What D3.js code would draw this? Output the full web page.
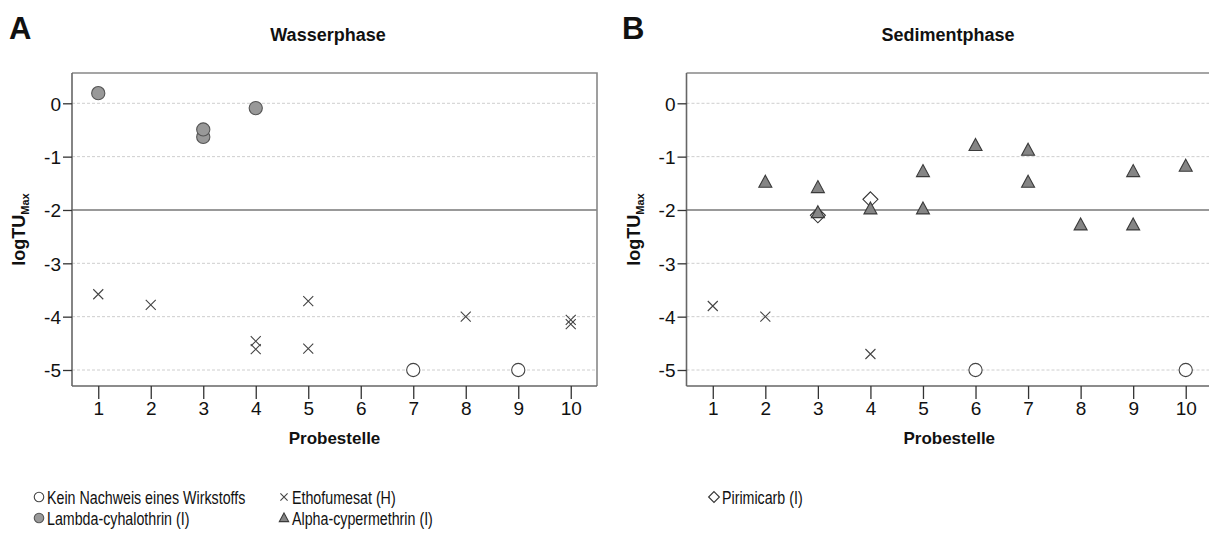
<!DOCTYPE html>
<html>
<head>
<meta charset="utf-8">
<script src="https://cdn.jsdelivr.net/npm/d3@7/dist/d3.min.js"></script>
<style>
  html, body { margin: 0; padding: 0; background: #fff; }
  svg { display: block; font-family: "Liberation Sans", Arial, sans-serif; }
</style>
</head>
<body>
<svg id="chart" width="1209" height="537"></svg>
<script>
// Sampling sites (Probestelle) and y ticks
const sites = [1, 2, 3, 4, 5, 6, 7, 8, 9, 10];
const yTicks = [0, -1, -2, -3, -4, -5];

// Wasserphase (water phase) – [site, logTU_max]
const waterNone = [[7, -5], [9, -5]];
const waterLambda = [[1, 0.19], [3, -0.63], [3, -0.49], [4, -0.09]];
const waterEthofumesat = [[1, -3.58], [2, -3.78], [4, -4.46], [4, -4.61], [5, -3.71], [5, -4.6], [8, -4.0], [10, -4.06], [10, -4.14]];

// Sedimentphase (sediment phase)
const sedNone = [[6, -5], [10, -5]];
const sedAlpha = [[2, -1.48], [3, -1.58], [3, -2.05], [4, -1.98], [5, -1.28], [5, -1.98], [6, -0.79], [7, -0.88], [7, -1.48], [8, -2.28], [9, -1.28], [9, -2.28], [10, -1.18]];
const sedPirimicarb = [[3, -2.1], [4, -1.8]];
const sedEthofumesat = [[1, -3.8], [2, -4.0], [4, -4.7]];

const legendItems = [
  { type: "none", label: "Kein Nachweis eines Wirkstoffs", col: 0, row: 0 },
  { type: "etho", label: "Ethofumesat (H)", col: 1, row: 0 },
  { type: "piri", label: "Pirimicarb (I)", col: 2, row: 0 },
  { type: "lambda", label: "Lambda-cyhalothrin (I)", col: 0, row: 1 },
  { type: "alpha", label: "Alpha-cypermethrin (I)", col: 1, row: 1 }
];

const svg = d3.select("#chart");

// Marker drawing helpers
function drawMarker(g, type, x, y, s) {
  s = s || 1;
  if (type === "none") {
    g.append("circle").attr("cx", x).attr("cy", y).attr("r", 6.6 * s)
      .attr("fill", "#fff").attr("stroke", "#444").attr("stroke-width", 1.1);
  } else if (type === "lambda") {
    g.append("circle").attr("cx", x).attr("cy", y).attr("r", 6.6 * s)
      .attr("fill", "#999").attr("stroke", "#555").attr("stroke-width", 1.1);
  } else if (type === "etho") {
    const h = 5 * s;
    g.append("path")
      .attr("d", `M${x - h},${y - h}L${x + h},${y + h}M${x - h},${y + h}L${x + h},${y - h}`)
      .attr("stroke", "#444").attr("stroke-width", 1.1).attr("fill", "none");
  } else if (type === "piri") {
    const h = 7.5 * s;
    g.append("path")
      .attr("d", `M${x},${y - h}L${x + h},${y}L${x},${y + h}L${x - h},${y}Z`)
      .attr("fill", "#fff").attr("stroke", "#333").attr("stroke-width", 1.1);
  } else if (type === "alpha") {
    const w = 6.5 * s, hUp = 7 * s, hDn = 5 * s;
    g.append("path")
      .attr("d", `M${x},${y - hUp}L${x + w},${y + hDn}L${x - w},${y + hDn}Z`)
      .attr("fill", "#858585").attr("stroke", "#3a3a3a").attr("stroke-width", 1.1);
  }
}

function panel(opts) {
  const x = d3.scaleLinear().domain([0.5, 10.5]).range([opts.left, opts.right]);
  const y = d3.scaleLinear().domain([0, -5]).range([103.3, 370]);
  const top = 73, bottom = 386;
  const g = svg.append("g");

  // Panel letter and title
  g.append("text").attr("x", opts.letterX).attr("y", 39)
    .attr("font-size", 31).attr("font-weight", "bold").attr("fill", "#111").text(opts.letter);
  g.append("text").attr("x", opts.titleX).attr("y", 41).attr("text-anchor", "middle")
    .attr("font-size", 18).attr("font-weight", "bold").attr("fill", "#111").text(opts.title);

  // Gridlines
  g.append("g").selectAll("line").data(yTicks.filter(d => d !== -2)).join("line")
    .attr("x1", opts.left).attr("x2", opts.right)
    .attr("y1", d => y(d)).attr("y2", d => y(d))
    .attr("stroke", "#c8c8c8").attr("stroke-width", 0.9).attr("stroke-dasharray", "3,2");
  // Reference line at -2
  g.append("line").attr("x1", opts.left).attr("x2", opts.right)
    .attr("y1", y(-2)).attr("y2", y(-2))
    .attr("stroke", "#777").attr("stroke-width", 1.3);

  // Frame
  g.append("path")
    .attr("d", `M${opts.left},${top}H${opts.right}V${bottom}`)
    .attr("fill", "none").attr("stroke", "#888").attr("stroke-width", 1.6);

  // Axes
  const fmt = d => String(d);
  const yAxis = d3.axisLeft(y).tickValues(yTicks).tickSize(9).tickPadding(2).tickFormat(fmt);
  const ya = g.append("g").attr("transform", `translate(${opts.left},0)`).call(yAxis);
  ya.select(".domain").attr("d", `M0,${top}V${bottom}`).attr("stroke", "#666").attr("stroke-width", 1.6);
  const xAxis = d3.axisBottom(x).tickValues(sites).tickSize(13).tickPadding(3).tickFormat(fmt);
  const xa = g.append("g").attr("transform", `translate(0,${bottom})`).call(xAxis);
  xa.select(".domain").attr("d", `M${opts.left},0H${opts.right}`).attr("stroke", "#666").attr("stroke-width", 1.6);
  [ya, xa].forEach(a => {
    a.selectAll(".tick line").attr("stroke", "#333").attr("stroke-width", 1.3);
    a.selectAll(".tick text").attr("font-size", 19).attr("fill", "#111")
      .attr("font-family", "'Liberation Sans', Arial, sans-serif");
  });
  ya.selectAll(".tick text").attr("dy", "0.36em");

  // Axis titles
  g.append("text").attr("x", (opts.left + opts.right) / 2).attr("y", 444).attr("text-anchor", "middle")
    .attr("font-size", 17).attr("font-weight", "bold").attr("fill", "#111").text("Probestelle");
  const yl = g.append("text")
    .attr("transform", `translate(${opts.left - 47},${(top + bottom) / 2}) rotate(-90)`)
    .attr("text-anchor", "middle").attr("font-size", 18).attr("font-weight", "bold").attr("fill", "#111");
  yl.append("tspan").text("logTU");
  yl.append("tspan").attr("font-size", 11).attr("dy", 4).text("Max");

  // Markers
  const mg = g.append("g");
  opts.series.forEach(s => s.data.forEach(d => drawMarker(mg, s.type, x(d[0]), y(d[1]))));
}

panel({
  letter: "A", letterX: 9, title: "Wasserphase", titleX: 328,
  left: 72, right: 597,
  series: [
    { type: "none", data: waterNone },
    { type: "etho", data: waterEthofumesat },
    { type: "lambda", data: waterLambda }
  ]
});

panel({
  letter: "B", letterX: 622, title: "Sedimentphase", titleX: 948,
  left: 686.5, right: 1212,
  series: [
    { type: "none", data: sedNone },
    { type: "etho", data: sedEthofumesat },
    { type: "piri", data: sedPirimicarb },
    { type: "alpha", data: sedAlpha }
  ]
});

// Legend (narrow lettering)
const legCols = [39, 284, 714];
const legRows = [497, 518];
const lg = svg.append("g");
legendItems.forEach(it => {
  const cx = legCols[it.col], cy = legRows[it.row];
  drawMarker(lg, it.type, cx, cy, 0.72);
  lg.append("text")
    .attr("transform", `translate(${cx + 8},${cy + 6.5}) scale(0.77,1)`)
    .attr("font-size", 18.5).attr("fill", "#111").text(it.label);
});
</script>
</body>
</html>
